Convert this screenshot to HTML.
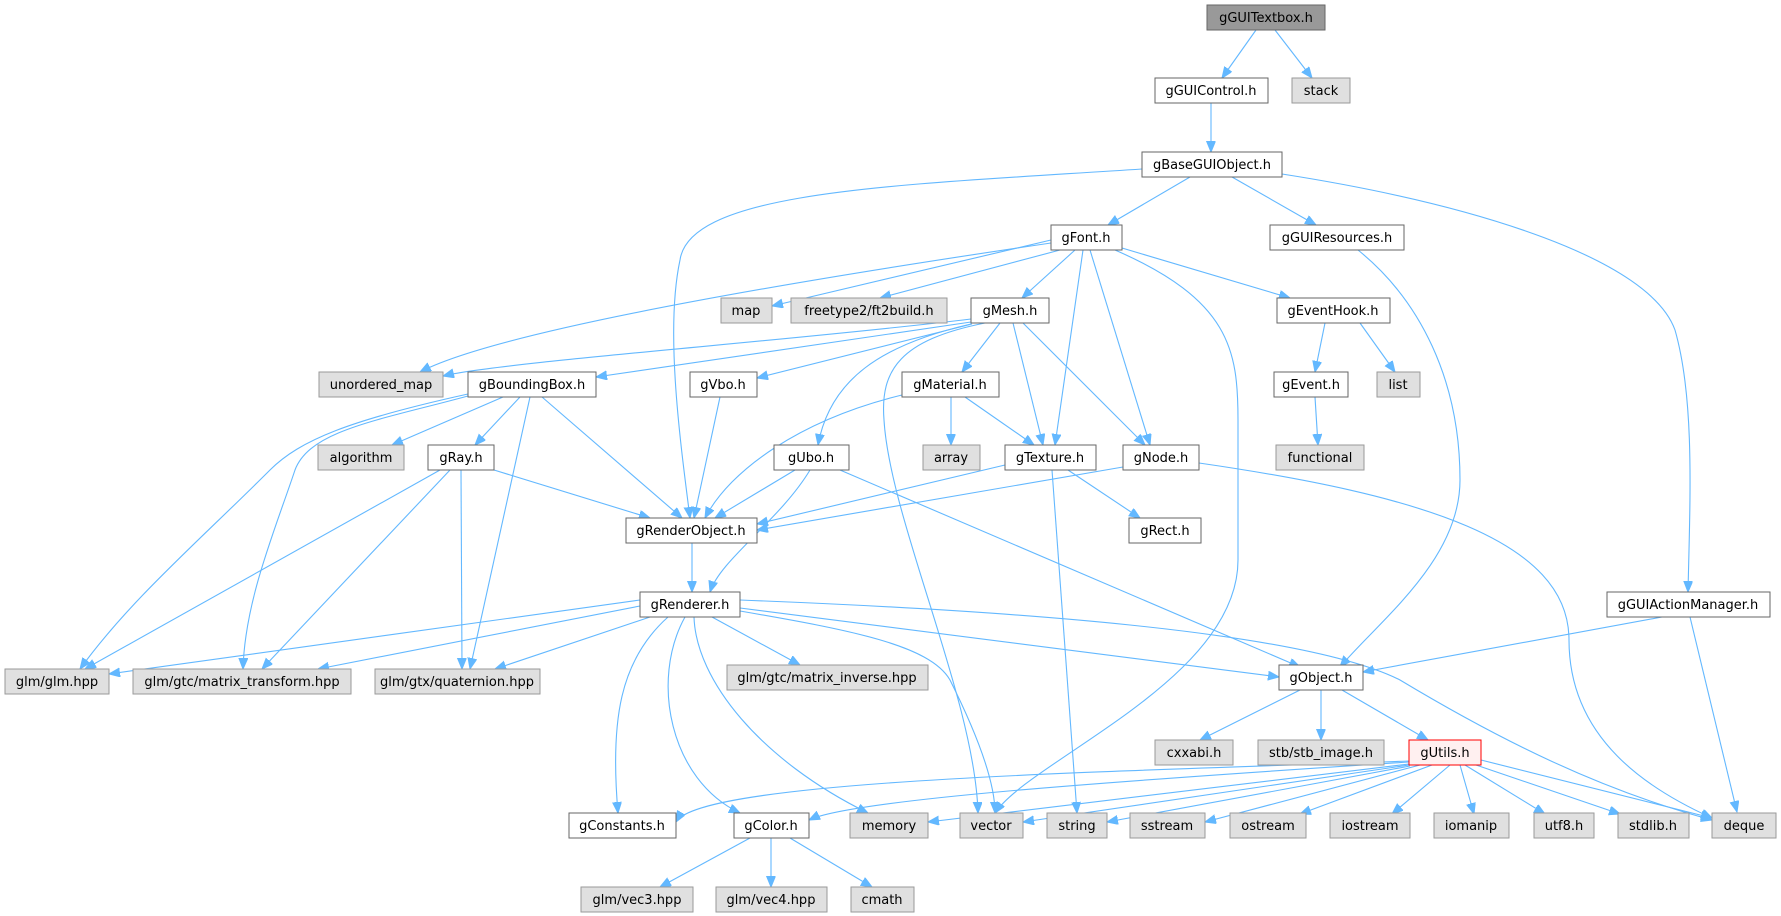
<!DOCTYPE html>
<html><head><meta charset="utf-8"><style>
html,body{margin:0;padding:0;background:#fff;}
svg{display:block}
text{font-family:"DejaVu Sans","Liberation Sans",sans-serif;font-size:13px;text-anchor:middle;fill:#000}
.w{fill:#fff;stroke:#666;stroke-width:1}
.g{fill:#e0e0e0;stroke:#999;stroke-width:1}
.e path{fill:none;stroke:#63b8ff;stroke-width:1.1;marker-end:url(#a)}
</style></head><body>
<svg width="1781" height="916" viewBox="0 0 1781 916" xmlns="http://www.w3.org/2000/svg">
<defs><marker id="a" markerUnits="userSpaceOnUse" markerWidth="12" markerHeight="10" refX="11" refY="4.5" orient="auto"><path d="M0,0 L11,4.5 L0,9 z" fill="#63b8ff" stroke="#63b8ff"/></marker></defs>
<g class="e">
<path d="M1256,30 L1222,78"/>
<path d="M1275,30 L1312,78"/>
<path d="M1211,103 L1211,152"/>
<path d="M1190,177 L1108,225"/>
<path d="M1232,177 L1316,225"/>
<path d="M1282,174 C1480,205 1650,260 1675,330 C1695,400 1690,500 1688,592"/>
<path d="M1142,169 C900,185 690,190 680,260 C665,330 680,440 690,518"/>
<path d="M1051,240 L772,306"/>
<path d="M1060,250 L880,298"/>
<path d="M1075,250 L1022,298"/>
<path d="M1122,248 L1290,298"/>
<path d="M1051,243 C800,280 500,330 420,372"/>
<path d="M1083,250 L1055,445"/>
<path d="M1090,250 L1150,445"/>
<path d="M1115,250 C1230,300 1238,350 1238,420 L1238,560 C1238,680 1030,760 995,813"/>
<path d="M1358,250 C1420,300 1460,380 1460,480 C1460,560 1380,620 1340,667"/>
<path d="M971,319 C800,340 500,362 443,376"/>
<path d="M971,322 L596,377"/>
<path d="M972,324 L757,378"/>
<path d="M1000,323 L962,372"/>
<path d="M971,324 C880,345 830,380 818,445"/>
<path d="M1013,323 L1043,445"/>
<path d="M1023,323 L1145,445"/>
<path d="M985,323 C900,340 880,370 884,420 C890,520 975,700 978,813"/>
<path d="M1325,323 L1315,372"/>
<path d="M1360,323 L1395,372"/>
<path d="M1315,397 L1318,445"/>
<path d="M503,397 L392,445"/>
<path d="M520,397 L475,445"/>
<path d="M542,397 L682,518"/>
<path d="M468,394 C350,420 300,440 270,470 C200,540 130,600 80,669"/>
<path d="M468,396 C380,420 310,430 295,470 C275,530 245,600 243,669"/>
<path d="M530,397 L470,669"/>
<path d="M494,470 L650,518"/>
<path d="M440,470 L85,669"/>
<path d="M450,470 L262,669"/>
<path d="M461,470 L462,669"/>
<path d="M720,397 L694,518"/>
<path d="M902,395 C800,420 730,470 705,518"/>
<path d="M951,397 L951,445"/>
<path d="M965,397 L1034,445"/>
<path d="M795,470 L715,518"/>
<path d="M810,470 C780,520 720,560 710,592"/>
<path d="M840,470 L1300,667"/>
<path d="M1005,465 L757,524"/>
<path d="M1068,470 L1140,518"/>
<path d="M1052,470 L1077,813"/>
<path d="M1123,467 L757,530"/>
<path d="M1199,463 C1420,495 1569,540 1569,640 C1569,740 1650,790 1712,818"/>
<path d="M692,543 L692,592"/>
<path d="M740,600 C1000,610 1300,630 1400,680 C1500,740 1600,790 1712,820"/>
<path d="M640,600 L109,674"/>
<path d="M640,606 L318,669"/>
<path d="M650,617 L495,669"/>
<path d="M712,617 L800,665"/>
<path d="M740,608 L1279,677"/>
<path d="M668,617 C620,660 610,720 618,813"/>
<path d="M685,617 C650,680 670,780 740,813"/>
<path d="M694,617 C696,680 760,760 868,813"/>
<path d="M740,611 C850,630 930,645 950,680 C975,730 995,780 995,813"/>
<path d="M1662,617 L1363,672"/>
<path d="M1690,617 L1737,812"/>
<path d="M1300,690 L1200,740"/>
<path d="M1321,690 L1321,740"/>
<path d="M1342,690 L1428,740"/>
<path d="M1409,761 C1100,772 700,780 676,822"/>
<path d="M1409,762 C1100,782 850,800 809,820"/>
<path d="M1409,764 L928,822"/>
<path d="M1409,765 L1023,822"/>
<path d="M1410,766 L1107,822"/>
<path d="M1420,765 L1205,822"/>
<path d="M1432,765 L1300,814"/>
<path d="M1450,765 L1392,814"/>
<path d="M1460,765 L1474,814"/>
<path d="M1465,765 L1545,814"/>
<path d="M1476,765 L1620,814"/>
<path d="M1481,760 L1712,818"/>
<path d="M750,838 L660,887"/>
<path d="M771,838 L771,887"/>
<path d="M790,838 L872,887"/>
</g>
<g>
<rect x="1207" y="5" width="118" height="25" fill="#999" stroke="#666"/><text x="1266" y="22">gGUITextbox.h</text>
<rect class="w" x="1155" y="78" width="113" height="25"/><text x="1211" y="95">gGUIControl.h</text>
<rect class="g" x="1292" y="78" width="58" height="25"/><text x="1321" y="95">stack</text>
<rect class="w" x="1142" y="152" width="140" height="25"/><text x="1212" y="169">gBaseGUIObject.h</text>
<rect class="w" x="1051" y="225" width="71" height="25"/><text x="1086" y="242">gFont.h</text>
<rect class="w" x="1270" y="225" width="134" height="25"/><text x="1337" y="242">gGUIResources.h</text>
<rect class="g" x="721" y="298" width="51" height="25"/><text x="746" y="315">map</text>
<rect class="g" x="791" y="298" width="156" height="25"/><text x="869" y="315">freetype2/ft2build.h</text>
<rect class="w" x="971" y="298" width="78" height="25"/><text x="1010" y="315">gMesh.h</text>
<rect class="w" x="1277" y="298" width="113" height="25"/><text x="1333" y="315">gEventHook.h</text>
<rect class="g" x="319" y="372" width="124" height="25"/><text x="381" y="389">unordered_map</text>
<rect class="w" x="468" y="372" width="128" height="25"/><text x="532" y="389">gBoundingBox.h</text>
<rect class="w" x="690" y="372" width="67" height="25"/><text x="723" y="389">gVbo.h</text>
<rect class="w" x="902" y="372" width="97" height="25"/><text x="950" y="389">gMaterial.h</text>
<rect class="w" x="1274" y="372" width="74" height="25"/><text x="1311" y="389">gEvent.h</text>
<rect class="g" x="1377" y="372" width="43" height="25"/><text x="1398" y="389">list</text>
<rect class="g" x="318" y="445" width="86" height="25"/><text x="361" y="462">algorithm</text>
<rect class="w" x="428" y="445" width="66" height="25"/><text x="461" y="462">gRay.h</text>
<rect class="w" x="774" y="445" width="75" height="25"/><text x="811" y="462">gUbo.h</text>
<rect class="g" x="923" y="445" width="57" height="25"/><text x="951" y="462">array</text>
<rect class="w" x="1005" y="445" width="91" height="25"/><text x="1050" y="462">gTexture.h</text>
<rect class="w" x="1123" y="445" width="76" height="25"/><text x="1161" y="462">gNode.h</text>
<rect class="g" x="1276" y="445" width="88" height="25"/><text x="1320" y="462">functional</text>
<rect class="w" x="626" y="518" width="131" height="25"/><text x="691" y="535">gRenderObject.h</text>
<rect class="w" x="1129" y="518" width="72" height="25"/><text x="1165" y="535">gRect.h</text>
<rect class="w" x="640" y="592" width="100" height="25"/><text x="690" y="609">gRenderer.h</text>
<rect class="w" x="1607" y="592" width="163" height="25"/><text x="1688" y="609">gGUIActionManager.h</text>
<rect class="g" x="5" y="669" width="104" height="25"/><text x="57" y="686">glm/glm.hpp</text>
<rect class="g" x="133" y="669" width="218" height="25"/><text x="242" y="686">glm/gtc/matrix_transform.hpp</text>
<rect class="g" x="375" y="669" width="165" height="25"/><text x="457" y="686">glm/gtx/quaternion.hpp</text>
<rect class="g" x="727" y="665" width="201" height="25"/><text x="827" y="682">glm/gtc/matrix_inverse.hpp</text>
<rect class="w" x="1279" y="665" width="84" height="25"/><text x="1321" y="682">gObject.h</text>
<rect class="g" x="1155" y="740" width="78" height="25"/><text x="1194" y="757">cxxabi.h</text>
<rect class="g" x="1258" y="740" width="126" height="25"/><text x="1321" y="757">stb/stb_image.h</text>
<rect x="1409" y="740" width="72" height="25" fill="#fff0f0" stroke="#f00"/><text x="1445" y="757">gUtils.h</text>
<rect class="w" x="569" y="813" width="107" height="25"/><text x="622" y="830">gConstants.h</text>
<rect class="w" x="734" y="813" width="75" height="25"/><text x="771" y="830">gColor.h</text>
<rect class="g" x="850" y="813" width="78" height="25"/><text x="889" y="830">memory</text>
<rect class="g" x="960" y="813" width="63" height="25"/><text x="991" y="830">vector</text>
<rect class="g" x="1047" y="813" width="60" height="25"/><text x="1077" y="830">string</text>
<rect class="g" x="1130" y="813" width="75" height="25"/><text x="1167" y="830">sstream</text>
<rect class="g" x="1230" y="813" width="76" height="25"/><text x="1268" y="830">ostream</text>
<rect class="g" x="1330" y="813" width="80" height="25"/><text x="1370" y="830">iostream</text>
<rect class="g" x="1434" y="813" width="75" height="25"/><text x="1471" y="830">iomanip</text>
<rect class="g" x="1534" y="813" width="60" height="25"/><text x="1564" y="830">utf8.h</text>
<rect class="g" x="1618" y="813" width="71" height="25"/><text x="1653" y="830">stdlib.h</text>
<rect class="g" x="1712" y="813" width="64" height="25"/><text x="1744" y="830">deque</text>
<rect class="g" x="581" y="887" width="112" height="25"/><text x="637" y="904">glm/vec3.hpp</text>
<rect class="g" x="716" y="887" width="111" height="25"/><text x="771" y="904">glm/vec4.hpp</text>
<rect class="g" x="851" y="887" width="63" height="25"/><text x="882" y="904">cmath</text>
</g>
</svg>
</body></html>
